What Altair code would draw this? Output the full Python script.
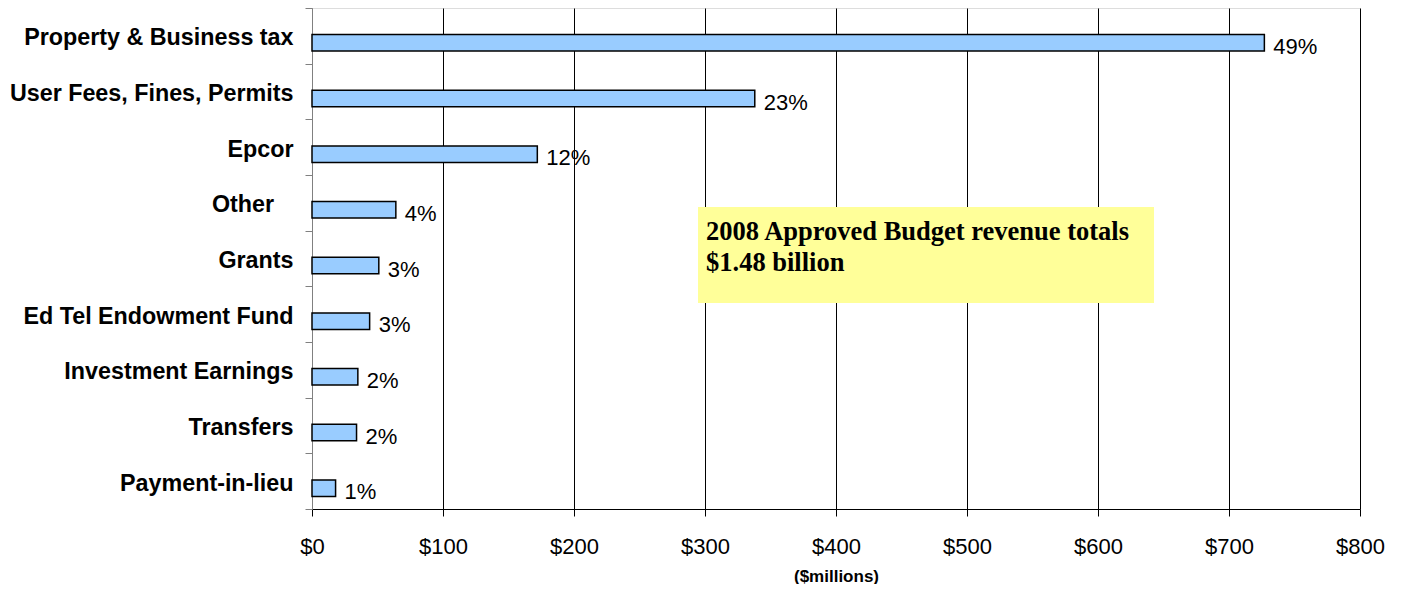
import altair as alt
import pandas as pd

categories = [
    "Property & Business tax",
    "User Fees, Fines, Permits",
    "Epcor",
    "Other\u00a0\u00a0\u00a0\u200b",
    "Grants",
    "Ed Tel Endowment Fund",
    "Investment Earnings",
    "Transfers",
    "Payment-in-lieu",
]
values = [727, 338, 172, 64, 51, 44, 35, 34, 18]
pct_labels = ["49%", "23%", "12%", "4%", "3%", "3%", "2%", "2%", "1%"]
x_ticks = [0, 100, 200, 300, 400, 500, 600, 700, 800]
note_lines = ["2008 Approved Budget revenue totals", "$1.48 billion"]

df = pd.DataFrame({"category": categories, "value": values, "pct": pct_labels})

SANS = "Liberation Sans"
SERIF = "Liberation Serif"

x_enc = alt.X(
    "value:Q",
    scale=alt.Scale(domain=[0, 800], nice=False, zero=True),
    axis=alt.Axis(
        values=x_ticks,
        labelExpr="'$' + datum.value",
        labelFlush=False,
        labelOverlap=False,
        title="($millions)",
        titleFont=SANS,
        titleFontSize=17,
        titleFontWeight="bold",
        titleColor="black",
        titleY=72,
        titleBaseline="alphabetic",
        labelFont=SANS,
        labelFontSize=22,
        labelColor="black",
        labelPadding=20,
        tickSize=7,
        tickColor="black",
        domainColor="black",
        domainWidth=1,
        grid=True,
        gridColor={"condition": {"test": "datum.value === 0", "value": "#808080"}, "value": "#000000"},
        gridWidth=1,
    ),
)

y_enc = alt.Y(
    "category:N",
    sort=categories,
    scale=alt.Scale(paddingInner=0, paddingOuter=0),
    axis=alt.Axis(
        title=None,
        tickBand="extent",
        labelFont=SANS,
        labelFontSize=23.3,
        labelFontWeight="bold",
        labelColor="black",
        labelPadding=12,
        labelOffset=2,
        labelLimit=400,
        tickSize=7,
        tickColor="#808080",
        domainColor="#808080",
        grid=False,
    ),
)

bars = alt.Chart(df).mark_bar(
    size=16.5, yOffset=7, fill="#99CCFF", stroke="black", strokeWidth=1.5
).encode(x=x_enc, y=y_enc)

labels = alt.Chart(df).mark_text(
    align="left", baseline="middle", dx=9, yOffset=11,
    font=SANS, fontSize=22, color="black"
).encode(x="value:Q", y=alt.Y("category:N", sort=categories), text="pct:N")

note_df = pd.DataFrame({"lines": [note_lines]})

note_box = alt.Chart(note_df).mark_rect(fill="#FFFF99").encode(
    x=alt.value(386), x2=alt.value(842), y=alt.value(199), y2=alt.value(295)
)

note_text = alt.Chart(note_df).mark_text(
    align="left", baseline="alphabetic", font=SERIF, fontSize=26.5,
    fontWeight="bold", color="black", lineHeight=31
).encode(x=alt.value(394), y=alt.value(232), text="lines")

chart = alt.layer(bars, labels, note_box, note_text).properties(
    width=1048,
    height=501,
    padding={"left": 304, "top": 0, "right": 30, "bottom": 75},
    autosize=alt.AutoSizeParams(type="none"),
).configure_view(stroke=None).configure(background="white")

chart.save("out.html", embed_options={"renderer": "svg", "actions": False})
